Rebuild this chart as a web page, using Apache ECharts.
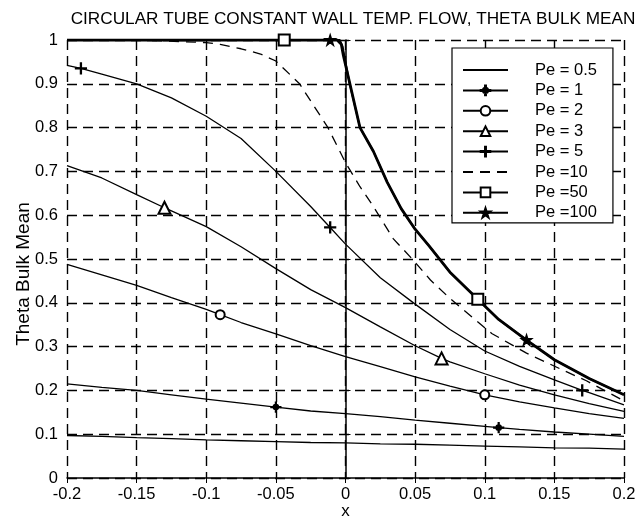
<!DOCTYPE html>
<html lang="en">
  <head>
    <meta charset="UTF-8" />
    <title>Theta Bulk Mean</title>
    <style>
      html, body { margin: 0; padding: 0; background: #fff; }
      #main { width: 638px; height: 523px; }
    </style>
  </head>
  <body>
    <script src="https://cdn.jsdelivr.net/npm/echarts@6/dist/echarts.min.js"></script>
    <div id="main"></div>
    <script>
      // shared x samples for the smooth, low-Pe curves
      const xGrid = [-0.2, -0.175, -0.15, -0.125, -0.1, -0.075, -0.05, -0.025, 0,
        0.025, 0.05, 0.075, 0.1, 0.125, 0.15, 0.175, 0.2]
      const pe05 = [0.097, 0.095, 0.092, 0.09, 0.087, 0.085, 0.083, 0.081, 0.08,
        0.078, 0.077, 0.075, 0.073, 0.071, 0.069, 0.068, 0.066]
      const pe1 = [0.215, 0.207, 0.2, 0.19, 0.18, 0.171, 0.162, 0.153, 0.147,
        0.14, 0.132, 0.125, 0.118, 0.111, 0.105, 0.1, 0.095]
      const pe2 = [0.488, 0.464, 0.44, 0.412, 0.385, 0.355, 0.329, 0.302, 0.277,
        0.254, 0.231, 0.21, 0.19, 0.174, 0.16, 0.147, 0.136]
      const pe3 = [0.713, 0.685, 0.647, 0.61, 0.574, 0.528, 0.478, 0.43, 0.389,
        0.345, 0.302, 0.265, 0.238, 0.212, 0.19, 0.17, 0.152]
      const pe5 = [0.942, 0.922, 0.9, 0.868, 0.826, 0.775, 0.7, 0.62, 0.534,
        0.457, 0.397, 0.339, 0.29, 0.255, 0.224, 0.195, 0.167]

      const pe10X = [-0.2, -0.15, -0.13, -0.1, -0.09, -0.075, -0.061, -0.05, -0.033, -0.0126, 0,
        0.0104, 0.02, 0.0344, 0.0485, 0.061, 0.075, 0.085, 0.105, 0.13, 0.157, 0.173, 0.2]
      const pe10Y = [1, 1, 0.998, 0.994, 0.99, 0.98, 0.968, 0.952, 0.9, 0.8, 0.72,
        0.665, 0.62, 0.546, 0.498, 0.452, 0.41, 0.383, 0.33, 0.285, 0.245, 0.222, 0.176]

      const pe50X = [-0.2, -0.1, -0.006, -0.003, -0.0015, 0.003, 0.0104, 0.02, 0.03, 0.04,
        0.05, 0.06, 0.075, 0.11, 0.13, 0.15, 0.175, 0.2]
      const pe50Y = [1, 1, 1, 0.99, 0.964, 0.902, 0.8, 0.746, 0.675, 0.615,
        0.568, 0.53, 0.47, 0.362, 0.315, 0.27, 0.227, 0.19]
      const pe100X = [-0.2, -0.1, -0.05, -0.004, -0.002, 0, 0.003, 0.0104, 0.02, 0.03, 0.04,
        0.05, 0.06, 0.075, 0.095, 0.11, 0.15, 0.175, 0.2]
      const pe100Y = [1, 1, 1, 1, 0.985, 0.95, 0.9, 0.8, 0.746, 0.675, 0.615,
        0.568, 0.53, 0.47, 0.408, 0.362, 0.27, 0.227, 0.19]

      // marker positions (matlab style sparse markers)
      const pe1MarkX = [-0.05, 0.11], pe1MarkY = [0.162, 0.115]
      const pe2MarkX = [-0.09, 0.1], pe2MarkY = [0.373, 0.19]
      const pe3MarkX = [-0.13, 0.069], pe3MarkY = [0.617, 0.273]
      const pe5MarkX = [-0.19, -0.011, 0.17], pe5MarkY = [0.935, 0.572, 0.2]
      const pe50MarkX = [-0.044, 0.095], pe50MarkY = [1, 0.408]
      const pe100MarkX = [-0.011, 0.13], pe100MarkY = [1, 0.315]

      const legendNames = ['Pe = 0.5', 'Pe = 1', 'Pe = 2', 'Pe = 3', 'Pe = 5', 'Pe =10', 'Pe =50', 'Pe =100']

      const plusPath = 'path://M4.5,0H5.5V10H4.5Z M0,4.5H10V5.5H0Z'
      const dotPlusPath = 'path://M4.5,0H5.5V10H4.5Z M0,4.5H10V5.5H0Z M2.3,5A2.7,2.7,0,1,1,7.7,5A2.7,2.7,0,1,1,2.3,5Z'
      const starPath = 'path://M5,0L6.2,3.6L10,3.6L6.9,5.9L8.1,9.6L5,7.3L1.9,9.6L3.1,5.9L0,3.6L3.8,3.6Z'

      function build(xs, ys, mx = [], my = []) {
        const pts = []
        xs.forEach((x, i) => {
          if (!mx.some((m) => Math.abs(m - x) < 1e-9)) {
            pts.push({ value: [x, ys[i]], symbol: 'none' })
          }
        })
        mx.forEach((x, i) => pts.push({ value: [x, my[i]] }))
        pts.sort((a, b) => a.value[0] - b.value[0])
        return pts
      }

      function line(name, data, symbol, size, extra = {}) {
        return Object.assign({
          name,
          type: 'line',
          data,
          symbol,
          symbolSize: size,
          showSymbol: true,
          smooth: false,
          silent: true,
          lineStyle: { color: '#000', width: 1.3 },
          itemStyle: { color: '#000', borderColor: '#000', borderWidth: 1.2 },
          z: 3
        }, extra)
      }

      // plain lines in the legend: hide the fallback symbol
      const hidden = { color: 'rgba(0,0,0,0)', borderColor: 'rgba(0,0,0,0)', borderWidth: 0 }
      const legendData = legendNames.map((name, i) =>
        (i === 0 || i === 5) ? { name, itemStyle: hidden } : { name })

      const chart = echarts.init(document.getElementById('main'))
      const font = 'Liberation Sans, Arial, sans-serif'

      chart.setOption({
        animation: false,
        backgroundColor: '#fff',
        title: {
          text: 'CIRCULAR TUBE CONSTANT WALL TEMP. FLOW, THETA BULK MEAN',
          left: 348,
          textAlign: 'center',
          top: 6,
          textStyle: { fontFamily: font, fontSize: 17.2, fontWeight: 'normal', color: '#000' }
        },
        legend: {
          data: legendData,
          orient: 'vertical',
          left: 452,
          top: 48,
          itemWidth: 45,
          itemHeight: 12,
          itemGap: 2.4,
          padding: [13, 8, 1, 10],
          borderColor: '#000',
          borderWidth: 1.2,
          backgroundColor: '#fff',
          selectedMode: false,
          textStyle: { fontFamily: font, fontSize: 16.5, lineHeight: 18, color: '#000',
            padding: [0, 8, 0, 22] }
        },
        grid: { left: 67, right: 14, top: 40, bottom: 45, outerBoundsMode: 'none', containLabel: false },
        xAxis: [{
          type: 'value',
          min: -0.2,
          max: 0.2,
          interval: 0.05,
          name: 'x',
          nameLocation: 'middle',
          nameGap: 25,
          nameMoveOverlap: false,
          nameTextStyle: { fontFamily: font, fontSize: 17, color: '#000' },
          axisLine: { show: true, lineStyle: { color: '#000', width: 1.5 } },
          axisTick: { show: true, inside: true, length: 5, lineStyle: { color: '#000' } },
          axisLabel: { fontFamily: font, fontSize: 16.5, color: '#000', margin: 8,
            formatter: (v) => String(+v.toFixed(2)) },
          splitLine: { show: true, lineStyle: { color: '#000', type: [10, 6], width: 1.4 } }
        }, {
          type: 'value', position: 'top', min: -0.2, max: 0.2, interval: 0.05,
          axisLine: { show: false },
          axisTick: { show: true, inside: true, length: 5, lineStyle: { color: '#000' } },
          axisLabel: { show: false }, splitLine: { show: false }
        }],
        yAxis: [{
          type: 'value',
          min: 0,
          max: 1,
          interval: 0.1,
          name: 'Theta Bulk Mean',
          nameLocation: 'middle',
          nameGap: 34,
          nameMoveOverlap: false,
          nameTextStyle: { fontFamily: font, fontSize: 19, color: '#000', padding: [0, 30, 0, 0] },
          axisLine: { show: true, lineStyle: { color: '#000', width: 1.5 } },
          axisTick: { show: true, inside: true, length: 5, lineStyle: { color: '#000' } },
          axisLabel: { fontFamily: font, fontSize: 16.5, color: '#000', margin: 9,
            formatter: (v) => String(+v.toFixed(1)) },
          splitLine: { show: true, lineStyle: { color: '#000', type: [10, 6], width: 1.4 } }
        }, {
          type: 'value', position: 'right', min: 0, max: 1, interval: 0.1,
          axisLine: { show: false },
          axisTick: { show: true, inside: true, length: 5, lineStyle: { color: '#000' } },
          axisLabel: { show: false }, splitLine: { show: false }
        }],
        series: [
          line(legendNames[0], build(xGrid, pe05), 'none', 0),
          line(legendNames[1], build(xGrid, pe1, pe1MarkX, pe1MarkY), dotPlusPath, 10),
          line(legendNames[2], build(xGrid, pe2, pe2MarkX, pe2MarkY), 'emptyCircle', 9),
          line(legendNames[3], build(xGrid, pe3, pe3MarkX, pe3MarkY), 'emptyTriangle', 12),
          line(legendNames[4], build(xGrid, pe5, pe5MarkX, pe5MarkY), plusPath, 11),
          line(legendNames[5], build(pe10X, pe10Y), 'none', 0,
            { lineStyle: { color: '#000', width: 1.3, type: [10, 7] } }),
          line(legendNames[6], build(pe50X, pe50Y, pe50MarkX, pe50MarkY), 'emptyRect', 11,
            { lineStyle: { color: '#000', width: 2.8 } }),
          line(legendNames[7], build(pe100X, pe100Y, pe100MarkX, pe100MarkY), starPath, 11,
            { lineStyle: { color: '#000', width: 1.8 } })
        ]
      })
    </script>
  </body>
</html>
